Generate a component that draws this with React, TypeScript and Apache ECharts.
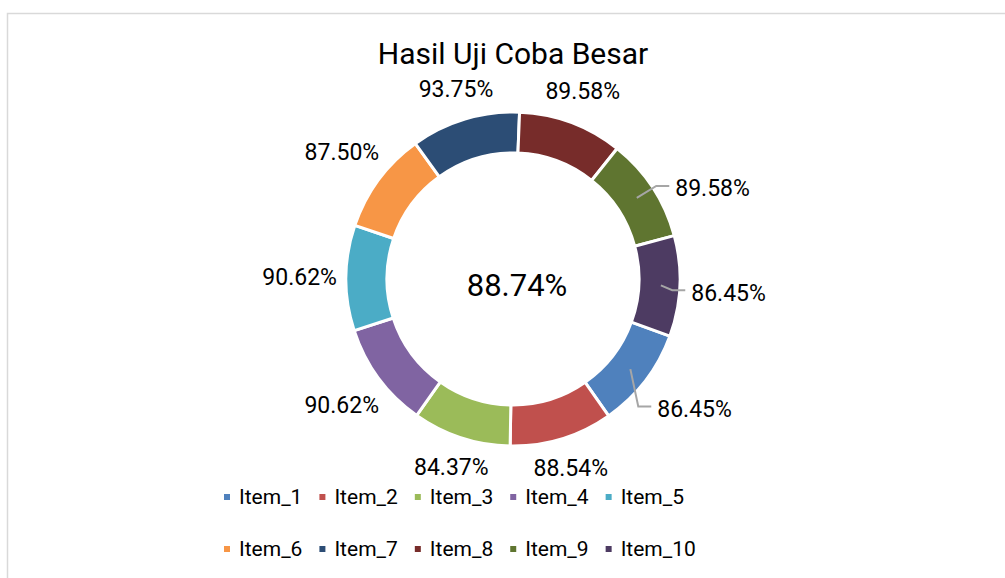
import React, { useEffect, useRef } from "react";
import * as echarts from "echarts";

// ---- data ----
const titleText = "Hasil Uji Coba Besar";
const categories = ["Item_1", "Item_2", "Item_3", "Item_4", "Item_5", "Item_6", "Item_7", "Item_8", "Item_9", "Item_10"];
const values = [86.45, 88.54, 84.37, 90.62, 90.62, 87.5, 93.75, 89.58, 89.58, 86.45];
const centerLabel = "88.74%";
const legendRow1 = ["Item_1", "Item_2", "Item_3", "Item_4", "Item_5"];
const legendRow2 = ["Item_6", "Item_7", "Item_8", "Item_9", "Item_10"];

// ---- style / layout ----
const colors = ["#4F81BD", "#C0504D", "#9BBB59", "#8064A2", "#4BACC6", "#F79646", "#2C4D75", "#772C2A", "#5F7530", "#4D3B62"];
// labels that were dragged away from their default spot (with a leader line): [dx, dy] nudge
const movedLabels: Record<string, [number, number]> = {
  Item_9: [21, 27],
  Item_10: [2, 5],
  Item_1: [13, 1],
};
const CX = 513;
const CY = 279;
const R_IN = 126;
const R_OUT = 167;
const FIRST_ANGLE = 110; // clockwise from 12 o'clock
const LABEL_R = 176;
const LEADER_START_R = 148;
const LABEL_FONT = 23;
const FONT = "Roboto, 'Noto Sans', sans-serif";

const fmt = (v: number) => `${v.toFixed(2)}%`;

function measure(text: string): number {
  const ctx = document.createElement("canvas").getContext("2d");
  if (!ctx) return text.length * LABEL_FONT * 0.55;
  ctx.font = `${LABEL_FONT}px Roboto`;
  return ctx.measureText(text).width;
}

// label centre + leader polyline, computed from the slice angles
function labelGeometry(i: number, w: number) {
  const total = values.reduce((a, b) => a + b, 0);
  let before = 0;
  for (let j = 0; j < i; j++) before += values[j];
  const mid = ((FIRST_ANGLE + ((before + values[i] / 2) / total) * 360) * Math.PI) / 180;
  const sx = Math.sin(mid);
  const sy = -Math.cos(mid);
  const d = LABEL_R + (Math.abs(sx) * w) / 2 + (Math.abs(sy) * LABEL_FONT) / 2;
  let x = CX + sx * d;
  let y = CY + sy * d;
  const nudge = movedLabels[categories[i]];
  let line: number[][] | null = null;
  if (nudge) {
    x += nudge[0];
    y += nudge[1];
    const side = sx >= 0 ? 1 : -1;
    const endX = x - side * (w / 2 + 6);
    const elbowX = endX - side * 13;
    line = [
      [CX + sx * LEADER_START_R, CY + sy * LEADER_START_R],
      [elbowX, y - 3],
      [endX, y - 3],
    ];
  }
  return { x, y, line };
}

export default function App() {
  const ref = useRef<HTMLDivElement>(null);

  useEffect(() => {
    if (!ref.current) return;
    const chart = echarts.init(ref.current, null, { renderer: "svg" });

    const legendCommon = {
      orient: "horizontal" as const,
      left: 222,
      padding: 0,
      itemWidth: 8,
      itemHeight: 8,
      itemGap: 15,
      icon: "rect",
      textStyle: { fontFamily: FONT, fontSize: 21, color: "#000", lineHeight: 22, padding: [0, 0, 0, 3] },
    };

    const leaderIdx = categories.map((c, i) => i).filter((i) => !!movedLabels[categories[i]]);

    chart.setOption({
      animation: false,
      color: colors,
      textStyle: { fontFamily: FONT },
      title: {
        text: titleText,
        left: CX,
        top: 38,
        padding: 0,
        textAlign: "center",
        textStyle: { fontFamily: FONT, fontSize: 30, fontWeight: "normal", color: "#000" },
      },
      legend: [
        { ...legendCommon, top: 486, data: legendRow1 },
        { ...legendCommon, top: 538, data: legendRow2 },
      ],
      graphic: [
        {
          type: "rect",
          z: -10,
          silent: true,
          shape: { x: 7.5, y: 13.5, width: 1200, height: 800 },
          style: { fill: "none", stroke: "#d9d9d9", lineWidth: 1.5 },
        },
        {
          type: "text",
          x: CX + 4,
          y: CY + 6,
          style: {
            text: centerLabel,
            fontFamily: FONT,
            fontSize: 31,
            fill: "#000",
            align: "center",
            verticalAlign: "middle",
          },
        },
      ],
      series: [
        {
          type: "pie",
          center: [CX, CY],
          radius: [R_IN, R_OUT],
          startAngle: 90 - FIRST_ANGLE,
          clockwise: true,
          avoidLabelOverlap: false,
          itemStyle: { borderColor: "#fff", borderWidth: 3 },
          emphasis: { disabled: true },
          label: {
            show: true,
            position: "outside",
            formatter: (p: any) => fmt(Number(p.value)),
            fontFamily: FONT,
            fontSize: LABEL_FONT,
            color: "#000",
          },
          labelLine: { show: false },
          labelLayout: (p: any) => {
            const g = labelGeometry(p.dataIndex, p.labelRect.width);
            return { x: g.x, y: g.y, align: "center", verticalAlign: "middle" };
          },
          data: categories.map((name, i) => ({ name, value: values[i] })),
        },
        {
          type: "custom",
          coordinateSystem: "none",
          silent: true,
          z: 10,
          data: leaderIdx,
          renderItem: (params: any, api: any) => {
            const i = api.value(0);
            const g = labelGeometry(i, measure(fmt(values[i])));
            return {
              type: "polyline",
              shape: { points: g.line || [] },
              style: { stroke: "#a6a6a6", lineWidth: 2, fill: "none" },
            };
          },
        },
      ],
    });

    return () => chart.dispose();
  }, []);

  return (
    <div
      ref={ref}
      style={{ position: "absolute", left: 0, top: 0, width: 1005, height: 578, background: "#fff" }}
    />
  );
}
